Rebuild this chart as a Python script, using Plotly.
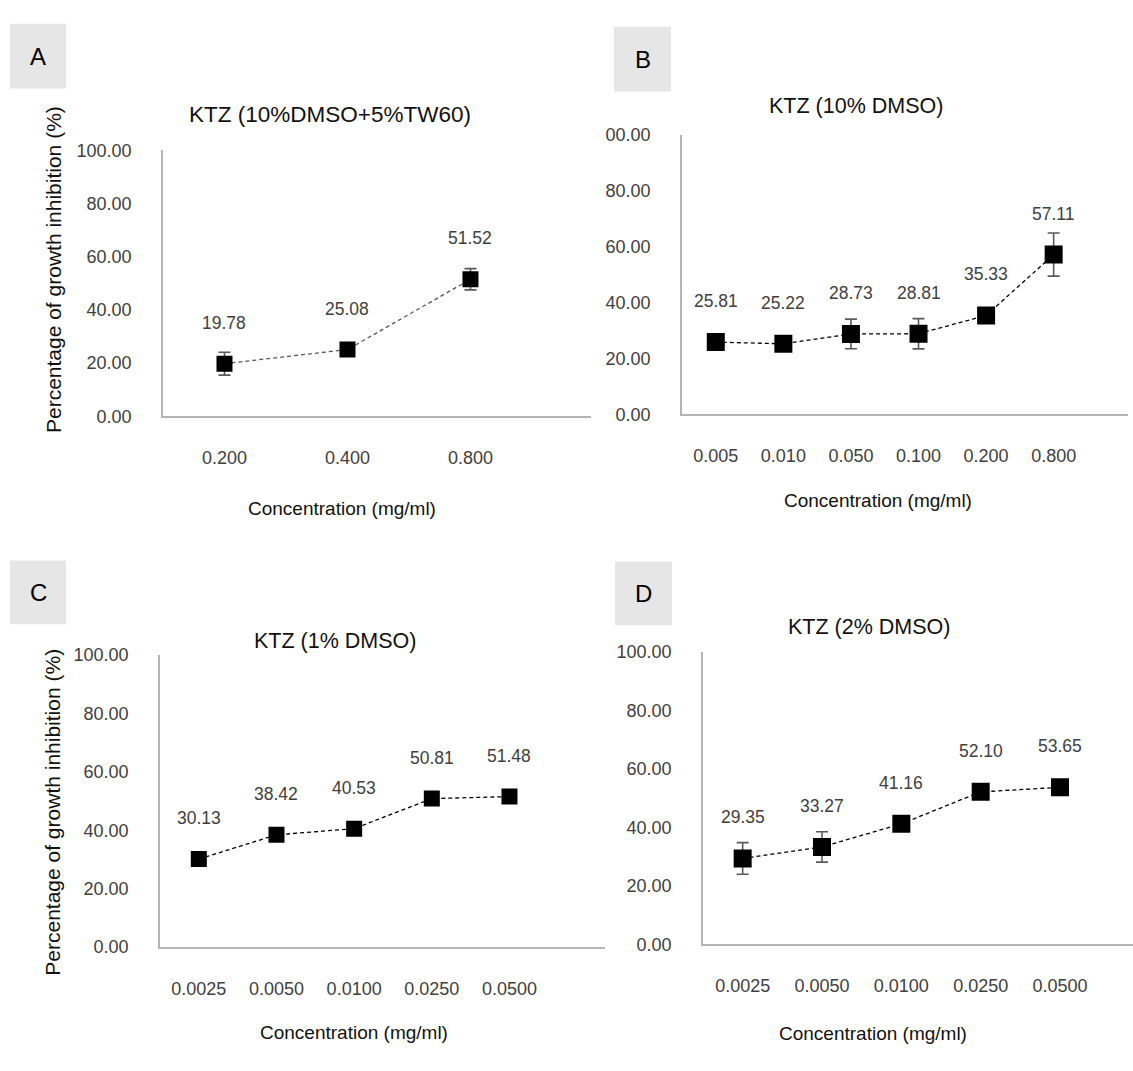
import plotly.graph_objects as go

W, H = 1133, 1071

# ---- data ----
conc_a = ["0.200", "0.400", "0.800"]
inhib_a = [19.78, 25.08, 51.52]
err_a = [4.3, 0.8, 4.0]

conc_b = ["0.005", "0.010", "0.050", "0.100", "0.200", "0.800"]
inhib_b = [25.81, 25.22, 28.73, 28.81, 35.33, 57.11]
err_b = [0.8, 0.8, 5.3, 5.4, 1.0, 7.7]

conc_c = ["0.0025", "0.0050", "0.0100", "0.0250", "0.0500"]
inhib_c = [30.13, 38.42, 40.53, 50.81, 51.48]
err_c = [0.5, 0.5, 0.5, 0.5, 0.5]

conc_d = ["0.0025", "0.0050", "0.0100", "0.0250", "0.0500"]
inhib_d = [29.35, 33.27, 41.16, 52.10, 53.65]
err_d = [5.4, 5.2, 0.8, 0.8, 0.8]

y_ticks = [0, 20, 40, 60, 80, 100]

FONT = "Liberation Sans, Arial, sans-serif"
TICK_COLOR = "#404040"
AXIS_COLOR = "#b4b4b4"


def fx(x):
    return x / W


def fy(y):
    return 1 - y / H


# panel layout in pixels: plot box, x-range end, title, axis titles, letter box
panels = [
    dict(cats=conc_a, vals=inhib_a, errs=err_a, letter="A",
         box=(163, 591, 143, 414), xend=2.98, msize=16, lcolor="#595959",
         title="KTZ (10%DMSO+5%TW60)", tpos=(330, 106), tsize=22.5,
         xt=(342, 508), yt=(53, 265), lbox=(10, 66, 14, 80), ytext=None),
    dict(cats=conc_b, vals=inhib_b, errs=err_b, letter="B",
         box=(682, 1128, 127, 412), xend=6.1, msize=18, lcolor="#000000",
         title="KTZ (10% DMSO)", tpos=(856, 98), tsize=21.5,
         xt=(878, 500), yt=None, lbox=(614, 671, 17, 83),
         ytext=["0.00", "20.00", "40.00", "60.00", "80.00", "00.00"]),
    dict(cats=conc_c, vals=inhib_c, errs=err_c, letter="C",
         box=(160, 605, 657, 955), xend=5.23, msize=16, lcolor="#000000",
         title="KTZ (1% DMSO)", tpos=(335, 643), tsize=21.5,
         xt=(354, 1042), yt=(53, 818), lbox=(10, 66, 561, 626), ytext=None),
    dict(cats=conc_d, vals=inhib_d, errs=err_d, letter="D",
         box=(703, 1133, 654, 952), xend=4.92, msize=18, lcolor="#000000",
         title="KTZ (2% DMSO)", tpos=(869, 629), tsize=21.5,
         xt=(873, 1043), yt=None, lbox=(615, 672, 562, 627), ytext=None),
]

fig = go.Figure()
annotations = []
shapes = []
layout_axes = {}

for i, p in enumerate(panels, start=1):
    sfx = "" if i == 1 else str(i)
    xa, ya = "x" + sfx, "y" + sfx

    fig.add_trace(go.Scatter(
        x=p["cats"], y=p["vals"], xaxis=xa, yaxis=ya,
        mode="lines+markers",
        line=dict(color=p["lcolor"], width=1.3, dash="4px,3px"),
        marker=dict(symbol="square", size=p["msize"], color="#000000",
                    line=dict(width=0)),
        error_y=dict(type="data", array=p["errs"], visible=True,
                     color="#595959", thickness=1.6, width=6),
        showlegend=False, hoverinfo="skip",
    ))

    x0, x1, y0, y1 = p["box"]
    layout_axes["xaxis" + sfx] = dict(
        domain=[fx(x0), fx(x1)], anchor=ya, type="category",
        range=[-0.5, p["xend"]], showline=True, linecolor=AXIS_COLOR,
        linewidth=1.8, showgrid=False, zeroline=False, ticks="",
        ticklabelstandoff=24,
        tickfont=dict(family=FONT, size=18, color=TICK_COLOR),
    )
    layout_axes["yaxis" + sfx] = dict(
        domain=[fy(y1), fy(y0)], anchor=xa, range=[0, 100],
        tickvals=y_ticks, ticktext=p["ytext"] or [f"{v:.2f}" for v in y_ticks],
        showline=True, linecolor=AXIS_COLOR, linewidth=1.8,
        showgrid=False, zeroline=False, ticks="", ticklabelstandoff=26,
        tickfont=dict(family=FONT, size=18, color=TICK_COLOR),
    )

    # value labels above each marker (category axes are indexed 0..n-1)
    for k, v in enumerate(p["vals"]):
        annotations.append(dict(
            x=k, y=v, xref=xa, yref=ya, text=f"{v:.2f}", showarrow=False,
            yshift=41, font=dict(family=FONT, size=17.5, color=TICK_COLOR),
        ))

    # chart title
    annotations.append(dict(
        x=fx(p["tpos"][0]), y=fy(p["tpos"][1]), xref="paper", yref="paper",
        text=p["title"], showarrow=False, xanchor="center", yanchor="middle",
        font=dict(family=FONT, size=p["tsize"], color="#111111"),
    ))
    # x-axis title
    annotations.append(dict(
        x=fx(p["xt"][0]), y=fy(p["xt"][1]), xref="paper", yref="paper",
        text="Concentration (mg/ml)", showarrow=False, xanchor="center",
        yanchor="middle", font=dict(family=FONT, size=19, color="#111111"),
    ))
    # y-axis title
    if p["yt"]:
        annotations.append(dict(
            x=fx(p["yt"][0]), y=fy(p["yt"][1]), xref="paper", yref="paper",
            text="Percentage of growth inhibition (%)", showarrow=False,
            textangle=-90, xanchor="center", yanchor="middle",
            font=dict(family=FONT, size=21, color="#111111"),
        ))

    # panel letter in a grey box
    lx0, lx1, ly0, ly1 = p["lbox"]
    shapes.append(dict(
        type="rect", xref="paper", yref="paper",
        x0=fx(lx0), x1=fx(lx1), y0=fy(ly1), y1=fy(ly0),
        fillcolor="#e6e6e6", line=dict(width=0), layer="below",
    ))
    annotations.append(dict(
        x=fx((lx0 + lx1) / 2), y=fy((ly0 + ly1) / 2), xref="paper",
        yref="paper", text=p["letter"], showarrow=False, xanchor="center",
        yanchor="middle", font=dict(family=FONT, size=24, color="#000000"),
    ))

fig.update_layout(
    width=W, height=H, margin=dict(l=0, r=0, t=0, b=0),
    paper_bgcolor="white", plot_bgcolor="white",
    annotations=annotations, shapes=shapes, **layout_axes,
)

fig.write_html("out.html")
